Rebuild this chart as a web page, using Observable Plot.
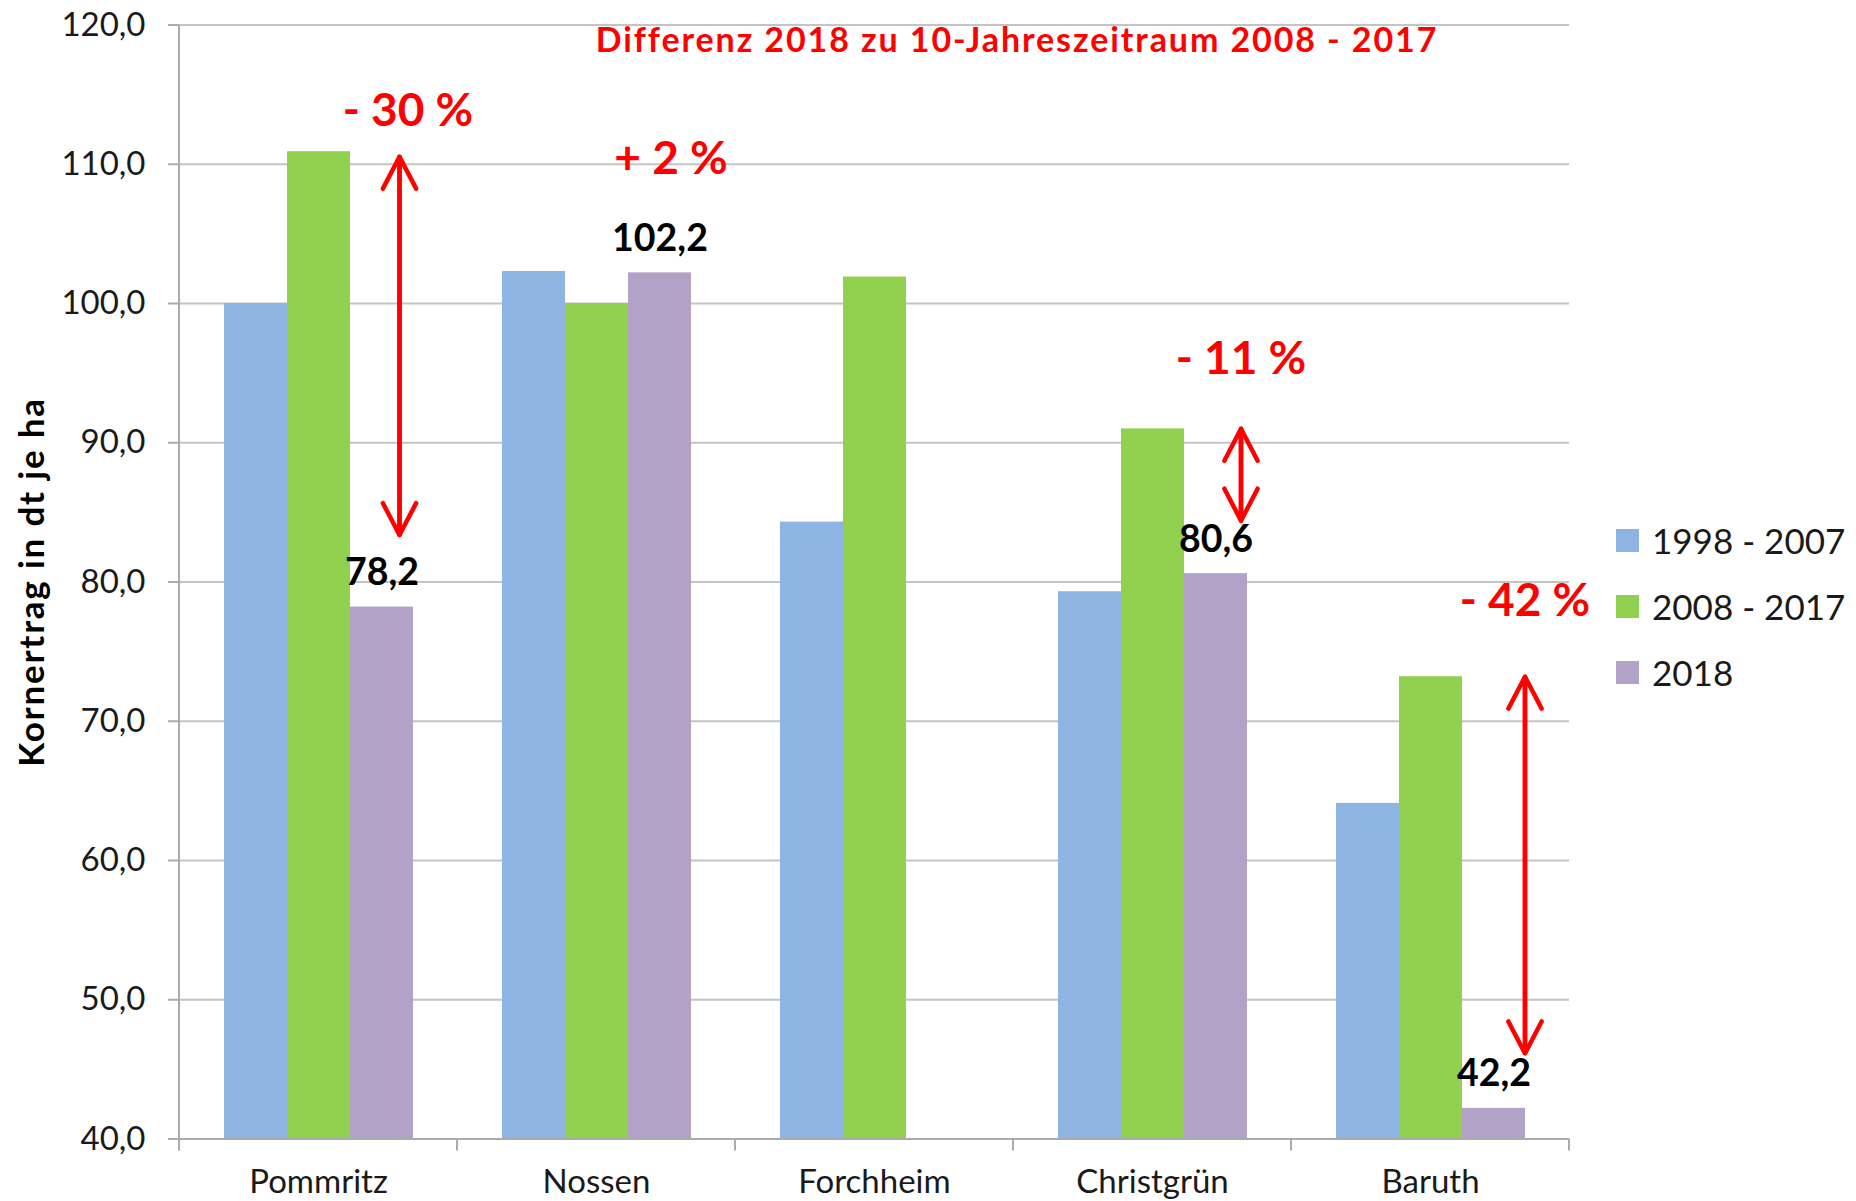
<!DOCTYPE html>
<html>
<head>
<meta charset="utf-8">
<script src="https://cdn.jsdelivr.net/npm/d3@7"></script>
<script src="https://cdn.jsdelivr.net/npm/@observablehq/plot@0.6"></script>
<style>
  html, body { margin: 0; padding: 0; background: #fff; }
  #wrap { position: relative; width: 1856px; height: 1201px; font-family: Lato, sans-serif; overflow: hidden; }
  #chart { position: absolute; left: 0; top: 0; }
  #title { position: absolute; top: 22px; left: 1017px; transform: translateX(-50%); font: bold 34px/34px Lato, sans-serif; letter-spacing: 1.9px; color: #ff0000; white-space: nowrap; }
  #legend { position: absolute; left: 1616px; top: 507px; }
  #legend div, #legend span { font-family: Lato, sans-serif !important; font-size: 35px !important; color: #1a1a1a !important; }
  #legend .lg-swatch { height: 66px; margin: 0 !important; padding: 0 !important; display: flex; align-items: center; }
  #legend svg { margin-right: 13px !important; }
  g[aria-label="y-axis label"] text { font-weight: bold; font-size: 35px; letter-spacing: 1.8px; fill: #000; }
</style>
</head>
<body>
<div id="wrap"><div id="chart"></div><div id="title"></div><div id="legend"></div></div>
<script>
// ---- data ----
const categories = ["Pommritz", "Nossen", "Forchheim", "Christgrün", "Baruth"];
const seriesNames = ["1998 - 2007", "2008 - 2017", "2018"];
const yield1998_2007 = [100.0, 102.3, 84.3, 79.3, 64.1];
const yield2008_2017 = [110.9, 100.0, 101.9, 91.0, 73.2];
const yield2018 = [78.2, 102.2, null, 80.6, 42.2];
const differenceLabels = ["- 30 %", "+ 2 %", null, "- 11 %", "- 42 %"];
const yTicks = [40, 50, 60, 70, 80, 90, 100, 110, 120];
const seriesColors = ["#8EB4E3", "#92D050", "#B3A2C7"];
const titleText = "Differenz 2018 zu 10-Jahreszeitraum 2008 - 2017";
const yLabel = "Kornertrag in dt je ha";

// ---- derived tables ----
const seriesValues = [yield1998_2007, yield2008_2017, yield2018];
const rows = categories.flatMap((c, i) =>
  seriesNames.map((s, j) => ({category: c, series: s, value: seriesValues[j][i]}))
).filter(d => d.value != null);
const diffRows = categories.map((c, i) => ({
  category: c, label: differenceLabels[i], from: yield2008_2017[i], to: yield2018[i]
})).filter(d => d.label);

const fmt1 = v => v.toFixed(1).replace(".", ",");
const yMin = yTicks[0], yMax = yTicks[yTicks.length - 1];
const gridColor = "#c4c4c4", axisColor = "#ababab", red = "#ff0000";
const last = seriesNames[2];

// annotation layout (pixel offsets)
const annotLayout = {
  "Pommritz":   {dx: 26, dy: -26, arrow: true, arrowDx: 17.5, headInset: 5, tailInset: 72},
  "Nossen":     {dx: 11, dy: -130, arrow: false},
  "Christgrün": {dx: 25, dy: -55, arrow: true, arrowDx: 25, headInset: 0, tailInset: 53},
  "Baruth":     {dx: 31, dy: -61, arrow: true, arrowDx: 31, headInset: 0, tailInset: 55}
};

const annotMarks = diffRows.flatMap(d => {
  const L = annotLayout[d.category];
  const data = [d];
  const ms = [
    Plot.text(data, {fx: "category", x: () => last, y: "from", text: "label", dx: L.dx, dy: L.dy,
      lineAnchor: "bottom", textAnchor: "middle", fontSize: 46, fontWeight: "bold", fill: red})
  ];
  if (L.arrow) {
    const common = {fx: "category", x1: () => last, x2: () => last, dx: L.arrowDx,
      stroke: red, strokeWidth: 4.5, headLength: 12, headAngle: 55};
    ms.push(Plot.arrow(data, {...common, y1: "to", y2: "from", insetStart: L.tailInset, insetEnd: L.headInset}));
    ms.push(Plot.arrow(data, {...common, y1: "from", y2: "to", insetStart: L.headInset, insetEnd: L.tailInset}));
  }
  return ms;
});

const chart = Plot.plot({
  width: 1600,
  height: 1201,
  marginLeft: 178,
  marginRight: 30,
  marginTop: 24.5,
  marginBottom: 62.5,
  style: {fontFamily: "Lato, sans-serif", fontSize: "33px", color: "#1a1a1a", background: "white", overflow: "visible"},
  fx: {domain: categories, padding: 0, axis: null, label: null},
  x: {domain: seriesNames, paddingInner: 0, paddingOuter: 0.70, axis: null},
  y: {domain: [yMin, yMax], axis: null},
  color: {domain: seriesNames, range: seriesColors},
  marks: [
    Plot.gridY(yTicks.slice(1), {stroke: gridColor, strokeOpacity: 1, strokeWidth: 2}),
    Plot.barY(rows, {fx: "category", x: "series", y1: yMin, y2: "value", fill: "series"}),
    Plot.ruleY([yMin], {stroke: axisColor, strokeWidth: 2}),
    Plot.axisY(yTicks, {tickSize: 11, tickPadding: 23, tickFormat: fmt1, fontSize: 33,
      color: "#1a1a1a", stroke: axisColor, strokeWidth: 2,
      label: yLabel, labelAnchor: "center", labelOffset: 160, labelArrow: false}),
    Plot.axisFx({anchor: "bottom", tickSize: 0, tickPadding: 31, fontSize: 33, label: null, color: "#1a1a1a"}),
    Plot.text(rows.filter(d => d.series === last), {fx: "category", x: "series", y: "value",
      text: d => fmt1(d.value), dy: -22, lineAnchor: "bottom", fontSize: 37.5, fontWeight: "bold", fill: "#000"}),
    ...annotMarks
  ]
});

document.getElementById("chart").appendChild(chart);

// y-axis line and category boundary ticks from Plot's scales
const fxS = chart.scale("fx"), yS = chart.scale("y");
const y0 = yS.apply(yMin), yTop = yS.apply(yMax);
const bounds = categories.map(c => fxS.apply(c)).concat([fxS.apply(categories[categories.length - 1]) + fxS.bandwidth]);
const g = d3.select(chart).append("g").attr("stroke", axisColor).attr("stroke-width", 2);
g.append("line").attr("x1", bounds[0]).attr("x2", bounds[0]).attr("y1", yTop).attr("y2", y0 + 12);
g.selectAll(".bt").data(bounds).join("line").attr("class", "bt")
  .attr("x1", d => d).attr("x2", d => d).attr("y1", y0).attr("y2", y0 + 12);

document.getElementById("title").textContent = titleText;

const legend = Plot.legend({
  color: {domain: seriesNames, range: seriesColors},
  legend: "swatches", columns: 1, swatchSize: 23, className: "lg"
});
document.getElementById("legend").appendChild(legend);
</script>
</body>
</html>
